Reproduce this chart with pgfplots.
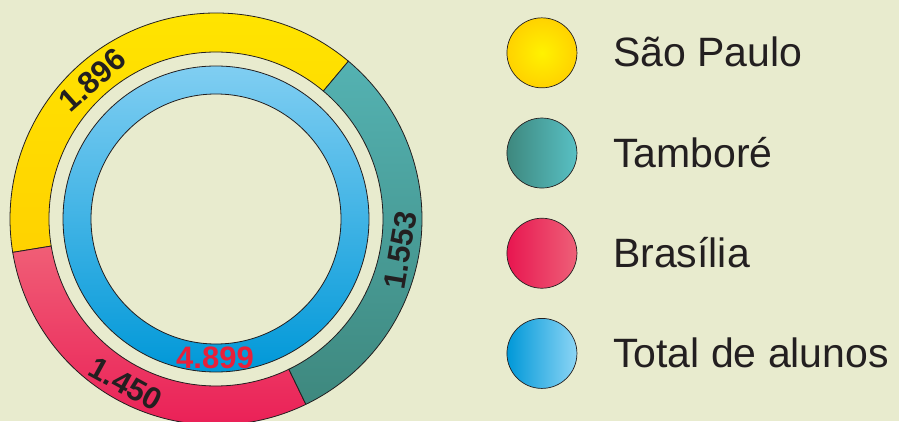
\documentclass[border=0pt]{standalone}
\usepackage{pgfplots}
\pgfplotsset{compat=1.18}
\usepackage{pgfplotstable}
\usepackage{fontspec}
\setmainfont{Liberation Sans}
\definecolor{bgc}{RGB}{232,235,206}
\definecolor{lab}{RGB}{35,31,32}
\definecolor{ylA}{RGB}{255,230,0}
\definecolor{ylB}{RGB}{255,210,0}
\definecolor{tlA}{RGB}{84,178,178}
\definecolor{tlB}{RGB}{62,136,126}
\definecolor{pkA}{RGB}{240,94,118}
\definecolor{pkB}{RGB}{234,30,86}
\definecolor{blA}{RGB}{128,206,242}
\definecolor{blM}{RGB}{0,170,228}
\definecolor{blB}{RGB}{0,152,216}
\definecolor{numred}{RGB}{232,32,58}
\pgfplotstableread{
campus valor
SaoPaulo 1896
Brasilia 1450
Tambore 1553
}\dados
\pgfplotstablegetelem{0}{valor}\of\dados\edef\vSP{\pgfplotsretval}
\pgfplotstablegetelem{1}{valor}\of\dados\edef\vBR{\pgfplotsretval}
\pgfplotstablegetelem{2}{valor}\of\dados\edef\vTA{\pgfplotsretval}
\pgfmathsetmacro\total{\vSP+\vBR+\vTA}
\pgfmathsetmacro\aS{50}
\pgfmathsetmacro\aA{\aS+360*(\vSP/\total)}
\pgfmathsetmacro\aB{\aA+360*(\vBR/\total)}
\pgfmathsetmacro\aC{\aS+360}
\newcommand\sector[3]{%
  \shadedraw[draw=lab, line width=0.8pt, #3]
    (axis cs:{216+206*cos(#1)},{202+206*sin(#1)})
    arc[start angle=#1, end angle=#2, radius=206pt]
    -- (axis cs:{216+167*cos(#2)},{202+167*sin(#2)})
    arc[start angle=#2, end angle=#1, radius=167pt] -- cycle;}
\pgfkeys{/pgf/number format/.cd, 1000 sep={.}, assume math mode=true}
\begin{document}%
\begin{tikzpicture}
\begin{axis}[
  x=1pt, y=1pt,
  xmin=0, xmax=899, ymin=0, ymax=421,
  hide axis,
  clip=true,
  clip bounding box=upper bound,
  axis background/.style={fill=bgc},
  legend cell align=left,
  legend style={at={(axis description cs:0.5635,0.9585)}, anchor=north west,
    draw=none, fill=none, inner sep=0pt, outer sep=0pt,
    row sep=29.5pt,
    nodes={inner sep=0pt, text=lab},
    font=\fontsize{41}{41}\selectfont},
]
\coordinate (SW) at (axis cs:0,0);
\coordinate (NE) at (axis cs:899,421);
\fill[bgc] (axis cs:0,0) rectangle (axis cs:899,421);
\sector{\aS}{\aA}{top color=ylA, bottom color=ylB}
\sector{\aA}{\aB}{top color=pkA, bottom color=pkB}
\sector{\aB}{\aC}{top color=tlA, bottom color=tlB}
\shadedraw[draw=lab, line width=0.8pt, even odd rule, top color=blA, middle color=blM, bottom color=blB]
  (axis cs:216,202) circle[radius=153pt] (axis cs:216,202) circle[radius=125pt];
\node[rotate=41.7, text=lab, font=\bfseries\fontsize{31}{31}\selectfont]
  at (axis cs:{216+186*cos(131.7)},{202+186*sin(131.7)}) {\pgfmathprintnumber{\vSP}};
\node[rotate=80.4, text=lab, font=\bfseries\fontsize{31}{31}\selectfont]
  at (axis cs:{216+187*cos(-9.6)},{202+187*sin(-9.6)}) {\pgfmathprintnumber{\vTA}};
\node[rotate=-28.7, text=lab, font=\bfseries\fontsize{31}{31}\selectfont]
  at (axis cs:{216+188*cos(241.3)},{202+188*sin(241.3)}) {\pgfmathprintnumber{\vBR}};
\node[text=numred, font=\bfseries\fontsize{31}{31}\selectfont]
  at (axis cs:215,63) {\pgfmathprintnumber{\total}};
\addlegendimage{legend image code/.code={\shadedraw[draw=lab, line width=0.7pt, inner color={rgb,255:red,255;green,242;blue,0}, outer color=ylB] (35pt,0pt) circle[radius=35pt]; \path (106pt,0pt);}}
\addlegendimage{legend image code/.code={\shadedraw[draw=lab, line width=0.7pt, left color=tlB, right color={rgb,255:red,88;green,192;blue,196}] (35pt,0pt) circle[radius=35pt]; \path (106pt,0pt);}}
\addlegendimage{legend image code/.code={\shadedraw[draw=lab, line width=0.7pt, left color={rgb,255:red,232;green,22;blue,80}, right color={rgb,255:red,238;green,96;blue,120}] (35pt,0pt) circle[radius=35pt]; \path (106pt,0pt);}}
\addlegendimage{legend image code/.code={\shadedraw[draw=lab, line width=0.7pt, left color=blB, middle color={rgb,255:red,0;green,176;blue,230}, right color={rgb,255:red,140;green,213;blue,245}] (35pt,0pt) circle[radius=35pt]; \path (106pt,0pt);}}
\legend{São Paulo, Tamboré, Brasília, Total de alunos}
\end{axis}
\pgfresetboundingbox
\useasboundingbox (SW) rectangle (NE);
\end{tikzpicture}%
\end{document}
